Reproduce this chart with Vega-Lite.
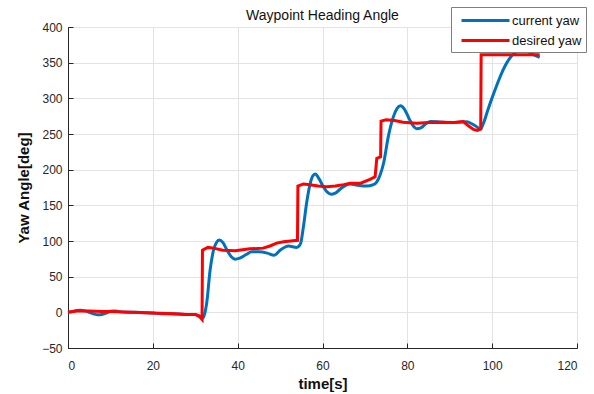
{
  "$schema": "https://vega.github.io/schema/vega-lite/v6.json",
  "width": 509,
  "height": 321,
  "autosize": {"type": "none"},
  "padding": {"left": 68, "top": 27, "right": 17, "bottom": 46},
  "background": "white",
  "config": {
    "font": "Liberation Sans",
    "view": {"stroke": "#262626", "strokeWidth": 1},
    "axis": {
      "labelFont": "Liberation Sans",
      "titleFont": "Liberation Sans",
      "labelFontSize": 12,
      "labelColor": "#262626",
      "titleColor": "#111111",
      "titleFontSize": 15,
      "titleFontWeight": "bold",
      "domainColor": "#262626",
      "tickColor": "#262626",
      "tickSize": -5,
      "gridColor": "#e3e3e3",
      "gridWidth": 1
    }
  },
  "title": {
    "text": "Waypoint Heading Angle",
    "fontSize": 14,
    "fontWeight": "normal",
    "font": "Liberation Sans",
    "color": "#111111",
    "offset": 5,
    "dy": 21
  },
  "datasets": {
    "cur": [
      {"t": 0, "yaw": 0}, {"t": 1, "yaw": 1}, {"t": 2, "yaw": 2.5}, {"t": 3, "yaw": 3},
      {"t": 4, "yaw": 2}, {"t": 5, "yaw": 0}, {"t": 6, "yaw": -2}, {"t": 7, "yaw": -3.5},
      {"t": 8, "yaw": -3}, {"t": 9, "yaw": -1}, {"t": 10, "yaw": 1.5}, {"t": 11, "yaw": 2},
      {"t": 12, "yaw": 1}, {"t": 14, "yaw": 0}, {"t": 16, "yaw": 0}, {"t": 18, "yaw": -0.5},
      {"t": 20, "yaw": -1}, {"t": 22, "yaw": -2}, {"t": 24, "yaw": -2}, {"t": 26, "yaw": -2.5},
      {"t": 28, "yaw": -3}, {"t": 30, "yaw": -3}, {"t": 31, "yaw": -5}, {"t": 31.8, "yaw": -8},
      {"t": 32.3, "yaw": 0}, {"t": 32.7, "yaw": 13}, {"t": 33.5, "yaw": 59}, {"t": 34.3, "yaw": 87},
      {"t": 35, "yaw": 98}, {"t": 35.7, "yaw": 101.5}, {"t": 36.5, "yaw": 98}, {"t": 37.5, "yaw": 87},
      {"t": 38.5, "yaw": 78}, {"t": 39.4, "yaw": 74.5}, {"t": 40.5, "yaw": 76}, {"t": 42, "yaw": 81},
      {"t": 43.3, "yaw": 85}, {"t": 45, "yaw": 85}, {"t": 47, "yaw": 83}, {"t": 48.6, "yaw": 80},
      {"t": 50, "yaw": 87}, {"t": 52, "yaw": 93}, {"t": 53.9, "yaw": 91}, {"t": 54.8, "yaw": 96},
      {"t": 55.5, "yaw": 120}, {"t": 56.3, "yaw": 155}, {"t": 57, "yaw": 178}, {"t": 57.7, "yaw": 191},
      {"t": 58.3, "yaw": 194}, {"t": 59.2, "yaw": 187}, {"t": 60.3, "yaw": 175}, {"t": 61.2, "yaw": 168},
      {"t": 62, "yaw": 165.5}, {"t": 63, "yaw": 167}, {"t": 64.2, "yaw": 173}, {"t": 66.5, "yaw": 180},
      {"t": 68.5, "yaw": 178}, {"t": 70.4, "yaw": 177}, {"t": 72, "yaw": 179}, {"t": 72.8, "yaw": 183},
      {"t": 73.6, "yaw": 193}, {"t": 74.4, "yaw": 209}, {"t": 75.5, "yaw": 246}, {"t": 76.7, "yaw": 274},
      {"t": 77.6, "yaw": 286}, {"t": 78.4, "yaw": 289.5}, {"t": 79.3, "yaw": 285}, {"t": 80.3, "yaw": 273},
      {"t": 81.3, "yaw": 262}, {"t": 82.2, "yaw": 257.5}, {"t": 83.3, "yaw": 259}, {"t": 84.3, "yaw": 264},
      {"t": 85.5, "yaw": 267.5}, {"t": 87.5, "yaw": 267}, {"t": 90, "yaw": 266}, {"t": 92, "yaw": 266.5},
      {"t": 94, "yaw": 267}, {"t": 95.3, "yaw": 264}, {"t": 96.4, "yaw": 260}, {"t": 97.2, "yaw": 256.5},
      {"t": 98, "yaw": 266}, {"t": 99, "yaw": 284}, {"t": 100, "yaw": 301}, {"t": 101, "yaw": 317},
      {"t": 102, "yaw": 332}, {"t": 103, "yaw": 345}, {"t": 104, "yaw": 355}, {"t": 105.2, "yaw": 363},
      {"t": 106.2, "yaw": 366.5}, {"t": 107.2, "yaw": 368}, {"t": 108.3, "yaw": 366}, {"t": 109.5, "yaw": 362},
      {"t": 111.2, "yaw": 357.5}
    ],
    "des": [
      {"t": 0, "yaw": 0}, {"t": 2, "yaw": 2}, {"t": 5, "yaw": 2}, {"t": 8, "yaw": 1},
      {"t": 10, "yaw": 1}, {"t": 15, "yaw": 0}, {"t": 20, "yaw": -1}, {"t": 25, "yaw": -2},
      {"t": 28, "yaw": -3}, {"t": 30, "yaw": -3}, {"t": 31, "yaw": -6}, {"t": 31.6, "yaw": -10},
      {"t": 31.7, "yaw": 87}, {"t": 33, "yaw": 91}, {"t": 34.3, "yaw": 90}, {"t": 36.5, "yaw": 87},
      {"t": 39.4, "yaw": 86.5}, {"t": 42.9, "yaw": 89}, {"t": 46, "yaw": 90}, {"t": 47.6, "yaw": 93},
      {"t": 49.2, "yaw": 97}, {"t": 50.8, "yaw": 99}, {"t": 52.5, "yaw": 100}, {"t": 54.1, "yaw": 101},
      {"t": 54.2, "yaw": 177}, {"t": 55.5, "yaw": 180}, {"t": 57, "yaw": 179}, {"t": 59, "yaw": 177},
      {"t": 61, "yaw": 176}, {"t": 63, "yaw": 177}, {"t": 65, "yaw": 179}, {"t": 66.5, "yaw": 181},
      {"t": 69, "yaw": 181}, {"t": 71.2, "yaw": 186.5}, {"t": 72.4, "yaw": 190}, {"t": 72.8, "yaw": 216},
      {"t": 73.7, "yaw": 218}, {"t": 73.8, "yaw": 268}, {"t": 75, "yaw": 270}, {"t": 77, "yaw": 269},
      {"t": 79, "yaw": 266.5}, {"t": 82.2, "yaw": 265}, {"t": 85, "yaw": 266}, {"t": 88, "yaw": 266.5},
      {"t": 91, "yaw": 266}, {"t": 93.2, "yaw": 267.5}, {"t": 94.3, "yaw": 262}, {"t": 95.6, "yaw": 256.5},
      {"t": 96.5, "yaw": 255}, {"t": 97.3, "yaw": 257}, {"t": 97.4, "yaw": 361}, {"t": 111.2, "yaw": 361}
    ]
  },
  "encoding": {
    "x": {
      "field": "t", "type": "quantitative",
      "scale": {"domain": [0, 120], "nice": false, "zero": false},
      "axis": {"title": "time[s]", "values": [0, 20, 40, 60, 80, 100, 120], "labelPadding": 17, "titlePadding": 5}
    },
    "y": {
      "field": "yaw", "type": "quantitative",
      "scale": {"domain": [-50, 400], "nice": false, "zero": false},
      "axis": {"title": "Yaw Angle[deg]", "values": [-50, 0, 50, 100, 150, 200, 250, 300, 350, 400], "labelPadding": 11, "titlePadding": 10}
    }
  },
  "layer": [
    {
      "data": {"name": "cur"},
      "mark": {"type": "line", "interpolate": "monotone", "strokeWidth": 3},
      "encoding": {
        "color": {
          "datum": "current yaw",
          "type": "nominal",
          "scale": {"domain": ["current yaw", "desired yaw"], "range": ["#0072BD", "#FF0000"]},
          "legend": {
            "title": null,
            "orient": "none",
            "legendX": 383,
            "legendY": -20,
            "symbolType": "M-3,0H3",
            "symbolSize": 256,
            "symbolStrokeWidth": 3,
            "symbolOffset": 21,
            "labelFontSize": 13,
            "labelFont": "Liberation Sans",
            "labelColor": "#111111",
            "fillColor": "white",
            "strokeColor": "#7f7f7f",
            "padding": 4,
            "rowPadding": 3,
            "labelOffset": 17
          }
        }
      }
    },
    {
      "data": {"name": "des"},
      "mark": {"type": "line", "interpolate": "linear", "strokeWidth": 3},
      "encoding": {
        "color": {"datum": "desired yaw", "type": "nominal"}
      }
    }
  ]
}
